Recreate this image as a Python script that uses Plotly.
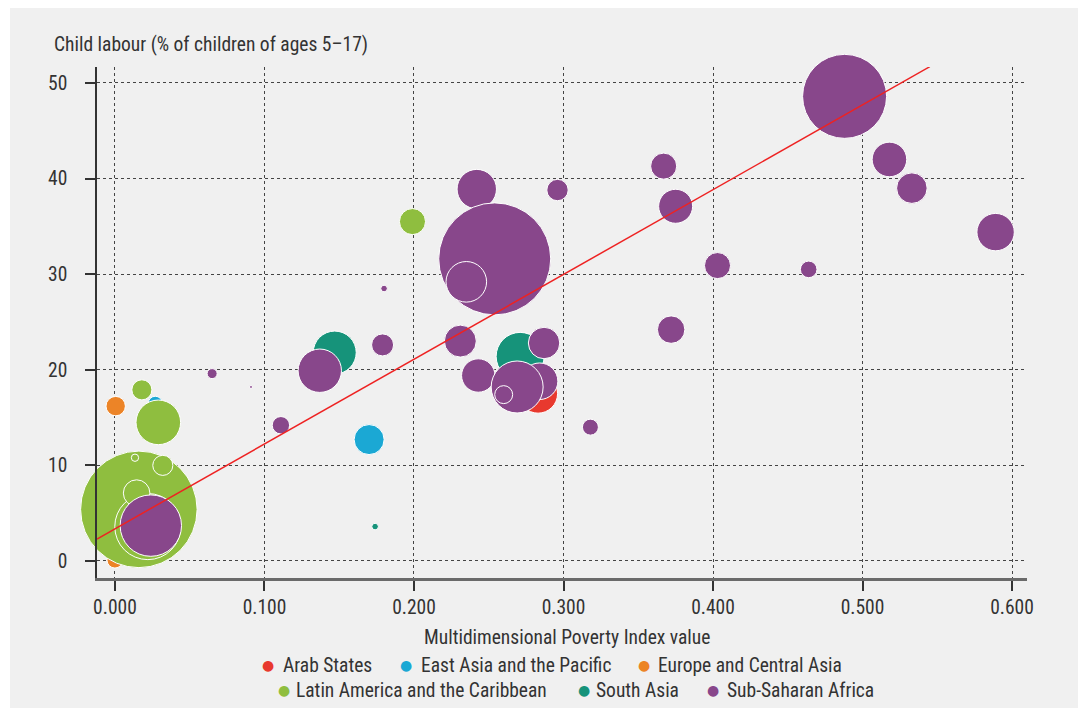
import plotly.graph_objects as go

# ---------------- data ----------------
regions = ["Arab States", "East Asia and the Pacific", "Europe and Central Asia",
           "Latin America and the Caribbean", "South Asia", "Sub-Saharan Africa"]

arab_mpi = [0.283]
arab_labour = [17.5]
arab_pop = [22.6]

eap_mpi = [0.170, 0.027]
eap_labour = [12.7, 16.5]
eap_pop = [13.4, 2.9]

eca_mpi = [0.0005, 0.0]
eca_labour = [16.2, 0.1]
eca_pop = [5.6, 3.8]

lac_mpi = [0.016, 0.022, 0.0145, 0.032, 0.0134, 0.029, 0.018, 0.199]
lac_labour = [5.4, 3.6, 7.1, 10.0, 10.8, 14.5, 17.9, 35.5]
lac_pop = [202, 65, 10.5, 6.0, 0.8, 29.6, 6.0, 10.1]

sa_mpi = [0.147, 0.271, 0.174]
sa_labour = [21.8, 21.4, 3.6]
sa_pop = [27.5, 34.3, 0.65]

ssa_mpi = [0.488, 0.518, 0.533, 0.589, 0.367, 0.375, 0.403, 0.464, 0.372, 0.242,
           0.254, 0.235, 0.296, 0.180, 0.179, 0.137, 0.231, 0.287, 0.243, 0.284,
           0.269, 0.260, 0.318, 0.111, 0.065, 0.091, 0.024]
ssa_labour = [48.6, 42.0, 39.0, 34.4, 41.3, 37.1, 30.9, 30.5, 24.2, 38.9,
              31.6, 29.2, 38.8, 28.5, 22.6, 19.9, 23.0, 22.8, 19.4, 18.8,
              18.2, 17.4, 14.0, 14.2, 19.6, 18.2, 3.7]
ssa_pop = [105, 17.8, 13.9, 20.8, 10.1, 17.2, 10.1, 4.1, 11.2, 23.1,
           186.7, 24.5, 6.8, 0.65, 7.2, 28.0, 15.2, 14.7, 16.6, 19.9,
           40.2, 4.8, 3.8, 4.5, 1.5, 0.13, 56.1]

trend_mpi = [-0.012, 0.545]
trend_labour = [2.3, 51.7]

x_ticks = [0.0, 0.1, 0.2, 0.3, 0.4, 0.5, 0.6]
x_ticklabels = ["0.000", "0.100", "0.200", "0.300", "0.400", "0.500", "0.600"]
y_ticks = [0, 10, 20, 30, 40, 50]

# ---------------- styling ----------------
colors = ["#e8392e", "#1ba8d4", "#ec8427", "#8fbe3f", "#16937a", "#88478b"]
FONT = "Roboto Condensed, Liberation Sans, sans-serif"
FS = 19.5
TXT = "#333333"
# page offset (body margin) is 8 px; figure sized so that it fills the window
OFF = 8
W, H = 1086 - OFF, 708 - OFF
L, R, T, B = 97, 1027, 67, 578  # plot area, screen pixels
SIZEREF = 1 / 33.6


def px(xs):
    return (xs - L) / (R - L)


def py(ys):
    return (B - ys) / (B - T)


fig = go.Figure()
series = [(arab_mpi, arab_labour, arab_pop), (eap_mpi, eap_labour, eap_pop),
          (eca_mpi, eca_labour, eca_pop), (lac_mpi, lac_labour, lac_pop),
          (sa_mpi, sa_labour, sa_pop), (ssa_mpi, ssa_labour, ssa_pop)]
for name, col, (xs, ys, ss) in zip(regions, colors, series):
    fig.add_trace(go.Scatter(
        x=xs, y=ys, mode="markers", name=name,
        marker=dict(size=ss, sizemode="area", sizeref=SIZEREF, sizemin=0,
                    color=col, opacity=1, line=dict(color="white", width=1)),
        showlegend=False, cliponaxis=False))

fig.add_trace(go.Scatter(x=trend_mpi, y=trend_labour, mode="lines",
                         line=dict(color="#ee2222", width=1.5),
                         showlegend=False, hoverinfo="skip"))

# ---------------- annotations ----------------
ann = []
ann.append(dict(text="Child labour (% of children of ages 5–17)", x=px(52), y=py(45),
                xref="paper", yref="paper", xanchor="left", yanchor="middle",
                showarrow=False, font=dict(family=FONT, size=FS, color=TXT)))
ann.append(dict(text="Multidimensional Poverty Index value", x=px(567), y=py(637),
                xref="paper", yref="paper", xanchor="center", yanchor="middle",
                showarrow=False, font=dict(family=FONT, size=FS, color=TXT)))

legend_pos = [(268, 281, 665), (406, 419, 665), (644, 656, 665),
              (284, 294, 690), (584, 594, 690), (713, 725, 690)]
for name, col, (dx, tx, yy) in zip(regions, colors, legend_pos):
    ann.append(dict(text="●", x=px(dx), y=py(yy), xref="paper", yref="paper",
                    xanchor="center", yanchor="middle", showarrow=False,
                    font=dict(family="DejaVu Sans", size=14, color=col)))
    ann.append(dict(text=name, x=px(tx), y=py(yy), xref="paper", yref="paper",
                    xanchor="left", yanchor="middle", showarrow=False,
                    font=dict(family=FONT, size=FS, color=TXT)))

shapes = [dict(type="rect", xref="paper", yref="paper", layer="below",
               x0=px(10), x1=px(1082), y0=py(720), y1=py(5),
               fillcolor="#f0f0f0", line=dict(width=0))]

fig.update_layout(
    width=W, height=H,
    margin=dict(l=L - OFF, r=W - (R - OFF), t=T - OFF, b=H - (B - OFF), pad=0),
    paper_bgcolor="white", plot_bgcolor="rgba(0,0,0,0)",
    font=dict(family=FONT, size=FS, color=TXT),
    showlegend=False,
    annotations=ann, shapes=shapes,
    xaxis=dict(range=[-0.012, 0.610], tickvals=x_ticks, ticktext=x_ticklabels,
               showgrid=True, gridcolor="#444444", gridwidth=1, griddash="3px,3px",
               zeroline=False, showline=True, linecolor="#6a6a6a", linewidth=2.5,
               ticks="outside", ticklen=10, tickwidth=1.5, tickcolor="#333333",
               ticklabelstandoff=0, tickfont=dict(family=FONT, size=FS, color=TXT)),
    yaxis=dict(range=[-1.78, 51.67], tickvals=y_ticks,
               showgrid=True, gridcolor="#444444", gridwidth=1, griddash="3px,3px",
               zeroline=False, showline=True, linecolor="#333333", linewidth=1.5,
               ticks="outside", ticklen=10, tickwidth=1.5, tickcolor="#333333",
               ticklabelstandoff=14, tickfont=dict(family=FONT, size=FS, color=TXT)),
)

fig.write_html("out.html")
